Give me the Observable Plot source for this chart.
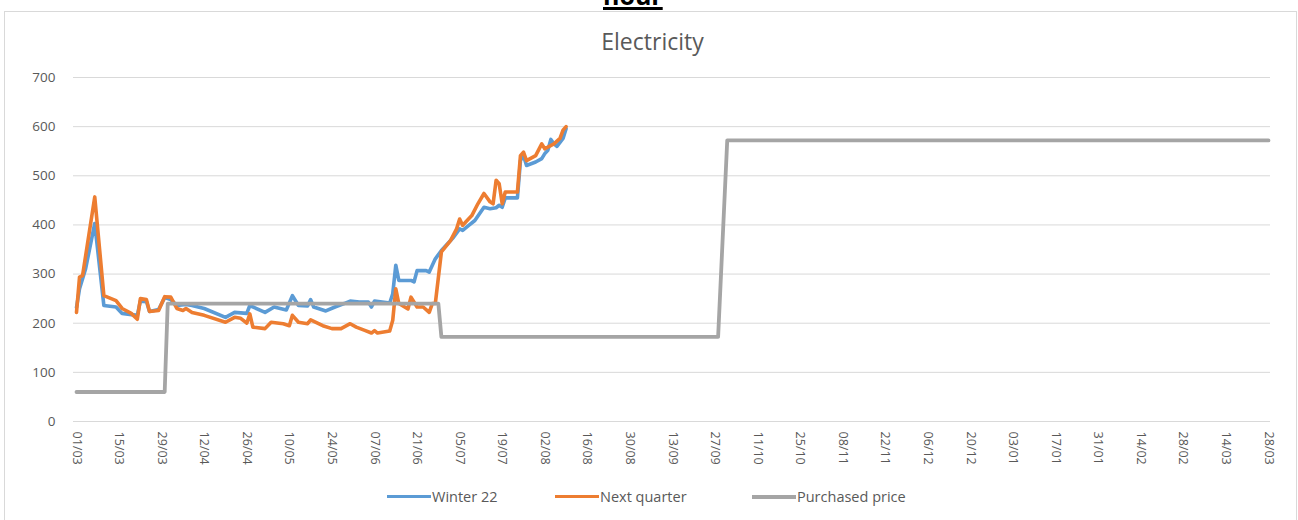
<!DOCTYPE html>
<html>
<head>
<meta charset="utf-8">
<script src="https://cdn.jsdelivr.net/npm/d3@7"></script>
<script src="https://cdn.jsdelivr.net/npm/@observablehq/plot@0.6"></script>
<style>
  html, body { margin: 0; padding: 0; background: #fff; }
  body { width: 1298px; height: 520px; overflow: hidden; position: relative; font-family: "Open Sans", sans-serif; }
  #cut { position: absolute; left: 603px; top: -17px; font: bold 25px "Open Sans", sans-serif; color: #000;
         text-decoration: underline; text-decoration-thickness: 3px; line-height: 25px; }
  #frame { position: absolute; left: 4px; top: 11px; width: 1293px; height: 515px; border: 1px solid #d9d9d9; box-sizing: border-box; }
  #title { position: absolute; left: 0; width: 1305px; top: 25px; text-align: center; font-size: 23px; color: #595959; font-family: "Open Sans", sans-serif; }
  #chart { position: absolute; left: 0; top: 0; }
  .leg { position: absolute; top: 487px; font-size: 14.5px; color: #595959; display: flex; align-items: center; white-space: nowrap; }
  .leg span.sw { display: inline-block; width: 44px; height: 3px; margin-right: 1px; }
  #chart svg g[aria-label="y-axis tick label"] text { font-size: 13.5px; }
  #chart svg g[aria-label="x-axis tick label"] text { font-size: 12.5px; }
</style>
</head>
<body>
<div id="cut">hour</div>
<div id="frame"></div>
<div id="title">Electricity</div>
<div id="chart"></div>
<div class="leg" style="left:387px"><span class="sw" style="background:#5B9BD5"></span>Winter 22</div>
<div class="leg" style="left:555px"><span class="sw" style="background:#ED7D31"></span>Next quarter</div>
<div class="leg" style="left:752px"><span class="sw" style="background:#A5A5A5;height:4px"></span>Purchased price</div>
<script>
const winterDates = ["2022-03-01","2022-03-02","2022-03-04","2022-03-07","2022-03-10","2022-03-14","2022-03-16","2022-03-21","2022-03-22","2022-03-24","2022-03-25","2022-03-28","2022-03-30","2022-04-01","2022-04-03","2022-04-06","2022-04-08","2022-04-12","2022-04-19","2022-04-22","2022-04-26","2022-04-27","2022-05-02","2022-05-05","2022-05-09","2022-05-11","2022-05-13","2022-05-16","2022-05-17","2022-05-18","2022-05-22","2022-05-25","2022-05-28","2022-05-30","2022-06-02","2022-06-05","2022-06-06","2022-06-07","2022-06-12","2022-06-13","2022-06-14","2022-06-15","2022-06-19","2022-06-20","2022-06-21","2022-06-24","2022-06-25","2022-06-27","2022-06-29","2022-07-03","2022-07-05","2022-07-06","2022-07-08","2022-07-10","2022-07-13","2022-07-15","2022-07-17","2022-07-18","2022-07-19","2022-07-20","2022-07-24","2022-07-25","2022-07-26","2022-07-27","2022-07-30","2022-08-01","2022-08-02","2022-08-03","2022-08-04","2022-08-05","2022-08-06","2022-08-08","2022-08-09"];
const winterValues = [232,270,311,403,236,233,220,216,245,244,224,228,252,248,236,238,236,230,212,222,220,236,222,233,227,256,236,235,248,233,225,233,240,245,243,243,233,245,241,260,318,287,287,284,307,307,304,331,348,375,392,389,399,409,436,433,435,440,436,455,455,531,541,521,528,535,545,552,574,565,560,576,596];

const nextDates = ["2022-03-01","2022-03-02","2022-03-03","2022-03-07","2022-03-10","2022-03-14","2022-03-16","2022-03-19","2022-03-21","2022-03-22","2022-03-24","2022-03-25","2022-03-28","2022-03-30","2022-04-01","2022-04-03","2022-04-05","2022-04-06","2022-04-08","2022-04-12","2022-04-19","2022-04-22","2022-04-24","2022-04-26","2022-04-27","2022-04-28","2022-05-02","2022-05-04","2022-05-08","2022-05-10","2022-05-11","2022-05-13","2022-05-16","2022-05-17","2022-05-21","2022-05-24","2022-05-27","2022-05-30","2022-06-01","2022-06-04","2022-06-06","2022-06-07","2022-06-08","2022-06-12","2022-06-13","2022-06-14","2022-06-15","2022-06-18","2022-06-19","2022-06-21","2022-06-23","2022-06-25","2022-06-26","2022-06-27","2022-06-29","2022-07-02","2022-07-04","2022-07-05","2022-07-06","2022-07-07","2022-07-09","2022-07-11","2022-07-13","2022-07-15","2022-07-16","2022-07-17","2022-07-18","2022-07-19","2022-07-20","2022-07-24","2022-07-25","2022-07-26","2022-07-27","2022-07-30","2022-08-01","2022-08-02","2022-08-05","2022-08-07","2022-08-08","2022-08-09"];
const nextValues = [222,294,297,457,256,246,230,220,208,250,248,224,226,254,253,230,226,230,222,216,202,212,210,200,219,192,189,202,199,195,216,202,199,207,195,189,189,199,192,185,180,185,180,184,206,270,240,229,253,233,233,222,240,240,345,368,392,412,399,406,419,443,464,447,443,491,484,443,467,467,541,548,531,541,565,555,565,576,593,600];

const purchasedDates = ["2022-03-01","2022-03-30","2022-03-31","2022-06-28","2022-06-29","2022-09-28","2022-10-01","2023-03-28"];
const purchasedValues = [60,60,240,240,172,172,572,572];

const xTickDates = ["2022-03-01","2022-03-15","2022-03-29","2022-04-12","2022-04-26","2022-05-10","2022-05-24","2022-06-07","2022-06-21","2022-07-05","2022-07-19","2022-08-02","2022-08-16","2022-08-30","2022-09-13","2022-09-27","2022-10-11","2022-10-25","2022-11-08","2022-11-22","2022-12-06","2022-12-20","2023-01-03","2023-01-17","2023-01-31","2023-02-14","2023-02-28","2023-03-14","2023-03-28"];
const yTicks = [0,100,200,300,400,500,600,700];

const toRows = (dates, values) => dates.map((d, i) => ({date: new Date(d), value: values[i]}));
const winter = toRows(winterDates, winterValues);
const next = toRows(nextDates, nextValues);
const purchased = toRows(purchasedDates, purchasedValues);

const chart = Plot.plot({
  width: 1298,
  height: 470,
  marginLeft: 76,
  marginRight: 30,
  marginTop: 77,
  marginBottom: 49,
  style: {fontFamily: "Open Sans, sans-serif", fontSize: "12.5px", color: "#595959", background: "transparent", overflow: "visible"},
  x: {type: "utc", domain: [new Date(xTickDates[0]), new Date(xTickDates[xTickDates.length - 1])],
      ticks: xTickDates.map(d => new Date(d)), tickFormat: d3.utcFormat("%d/%m"),
      tickRotate: 90, tickSize: 0, tickPadding: 10, label: null},
  y: {domain: [0, 700], ticks: yTicks, tickSize: 0, tickPadding: 21, label: null},
  marks: [
    Plot.gridY(yTicks, {stroke: "#d9d9d9", strokeOpacity: 1, strokeWidth: 1, insetLeft: -3, insetRight: -2}),
    Plot.lineY(winter, {x: "date", y: "value", stroke: "#5B9BD5", strokeWidth: 3.6, strokeLinejoin: "round", strokeLinecap: "round"}),
    Plot.lineY(next, {x: "date", y: "value", stroke: "#ED7D31", strokeWidth: 3.6, strokeLinejoin: "round", strokeLinecap: "round"}),
    Plot.lineY(purchased, {x: "date", y: "value", stroke: "#A5A5A5", strokeWidth: 3.8, strokeLinejoin: "round"})
  ]
});
document.getElementById("chart").appendChild(chart);
</script>
</body>
</html>
